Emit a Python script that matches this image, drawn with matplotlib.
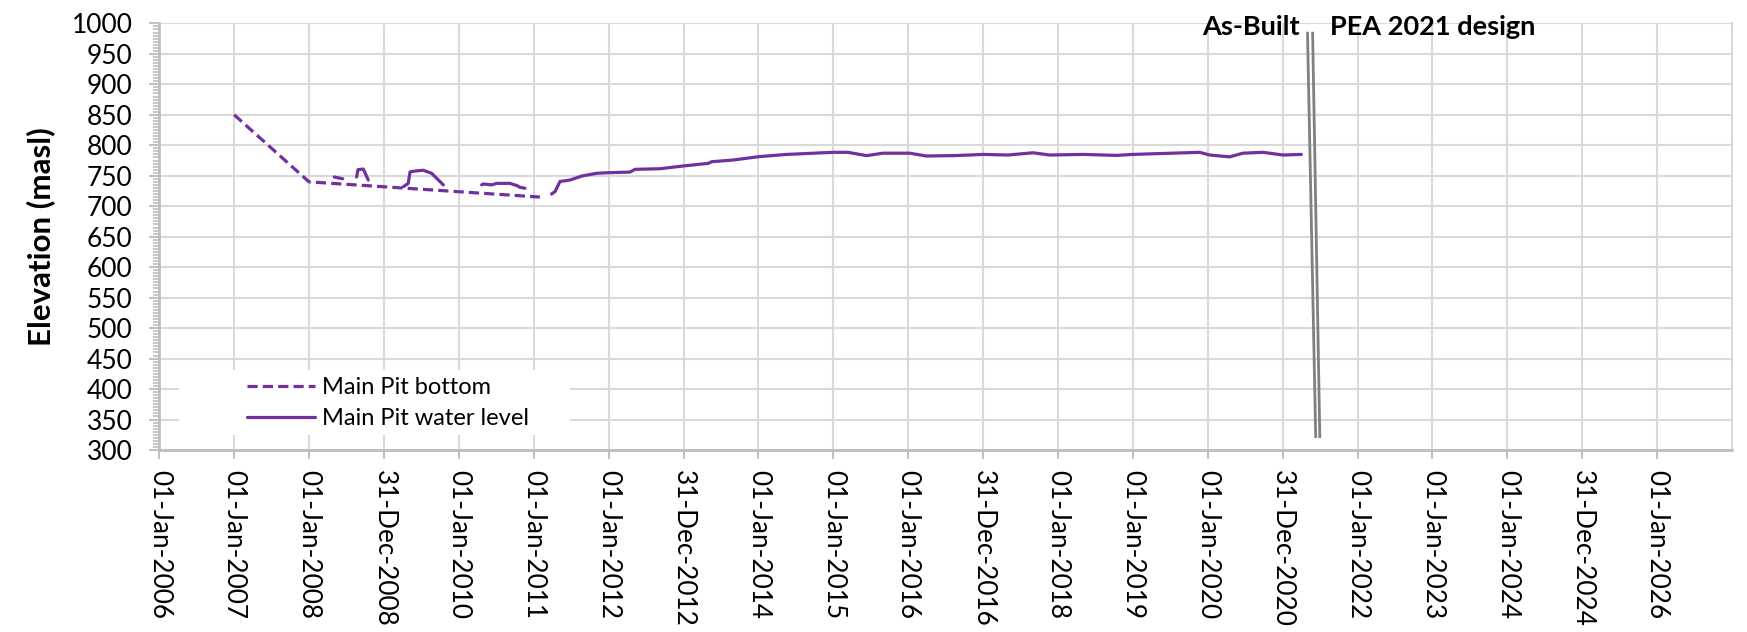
import matplotlib
matplotlib.use("Agg")
import matplotlib.pyplot as plt
import matplotlib.dates as mdates
import pandas as pd
import numpy as np
from matplotlib.patches import Rectangle

plt.rcParams['font.family'] = ['Lato', 'DejaVu Sans']

# ---- data ----
bottom_dates = ["2007-01-01", "2008-01-01", "2011-01-31"]
bottom_vals = [850, 740, 715]

water_segments = [
    (["2008-05-03", "2008-06-13"], [748, 745]),
    (["2008-08-20", "2008-08-27", "2008-09-22", "2008-10-16"], [748, 760, 761, 743]),
    (["2009-04-05", "2009-04-29", "2009-05-08", "2009-06-09", "2009-07-11",
      "2009-08-21", "2009-09-23", "2009-10-17"],
     [732, 737.5, 756.5, 758, 759, 754, 743, 735]),
    (["2010-04-22", "2010-04-30", "2010-06-10", "2010-07-04", "2010-09-07",
      "2010-10-10", "2010-10-26", "2010-11-19"],
     [735, 736.5, 735, 737.5, 737.5, 734, 731, 729.5]),
    (["2011-03-29", "2011-04-15", "2011-05-09", "2011-06-27", "2011-08-23",
      "2011-11-04", "2011-12-30", "2012-04-14", "2012-05-09", "2012-09-08",
      "2012-12-30", "2013-05-01", "2013-05-18", "2013-08-31", "2013-12-31",
      "2014-05-19", "2014-12-31", "2015-03-14", "2015-06-12", "2015-09-01",
      "2016-01-09", "2016-03-30", "2016-08-07", "2016-10-27", "2016-12-31",
      "2017-05-02", "2017-09-01", "2017-11-21", "2018-05-03", "2018-10-13",
      "2019-01-02", "2019-11-23", "2020-01-11", "2020-04-17", "2020-06-21",
      "2020-09-27", "2021-01-02", "2021-04-02"],
     [720, 724, 740.5, 743, 749.5, 754, 755, 756, 760.5, 761.5,
      766, 770.3, 773, 775.8, 781.2, 785, 788.4, 788.4, 783, 787,
      787, 782.4, 783, 784, 785, 784, 787.7, 784, 785, 783.4,
      785, 788.4, 784, 781, 787, 788.4, 784, 785]),
]

divider1_dates = ["2021-05-02", "2021-06-11"]
divider2_dates = ["2021-05-27", "2021-07-01"]
divider_vals = [984, 322]

tick_labels = ["01-Jan-2006", "01-Jan-2007", "01-Jan-2008", "31-Dec-2008",
               "01-Jan-2010", "01-Jan-2011", "01-Jan-2012", "31-Dec-2012",
               "01-Jan-2014", "01-Jan-2015", "01-Jan-2016", "31-Dec-2016",
               "01-Jan-2018", "01-Jan-2019", "01-Jan-2020", "31-Dec-2020",
               "01-Jan-2022", "01-Jan-2023", "01-Jan-2024", "31-Dec-2024",
               "01-Jan-2026"]

PURPLE = "#7030A0"
GRID = "#D9D9D9"
AXC = "#BFBFBF"

fig = plt.figure(figsize=(17.47, 6.32), dpi=100)
ax = fig.add_axes([0.0912, 0.288, 0.9002, 0.675])

d2n = lambda s: mdates.date2num(pd.to_datetime(s))
x0 = d2n("2006-01-01")

ax.plot(d2n(bottom_dates), bottom_vals, color=PURPLE, lw=2.3,
        dashes=(3.2, 1.6), label="Main Pit bottom", zorder=4)
for i, (ds, vs) in enumerate(water_segments):
    ax.plot(d2n(ds), vs, color=PURPLE, lw=2.3, solid_capstyle='round',
            label="Main Pit water level" if i == 0 else None, zorder=4)

ax.plot(d2n(divider1_dates), divider_vals, color="#808080", lw=2.0, zorder=4)
ax.plot(d2n(divider2_dates), divider_vals, color="#808080", lw=2.0, zorder=4)

ax.set_xlim(x0, x0 + 21 * 365.25)
ax.set_ylim(300, 1000)

xt = [x0 + k * 365.25 for k in range(len(tick_labels))]
ax.set_xticks(xt)
ax.set_xticklabels(tick_labels, rotation=-90, fontsize=18.8, va='top', ha='center')
ax.set_yticks(np.arange(300, 1001, 50))
ax.set_yticks(np.arange(300, 1001, 5), minor=True)
ax.tick_params(axis='y', labelsize=19, length=7.2, width=1.4, color=AXC, pad=12)
ax.tick_params(axis='y', which='minor', length=4.5, width=1.2, color=AXC)
ax.tick_params(axis='x', length=6.5, width=1.4, color=AXC, pad=8)

ax.grid(True, which='major', color=GRID, lw=1.5, zorder=0)
ax.set_axisbelow(True)
ax.spines['top'].set_visible(False)
ax.spines['right'].set_color(GRID)
ax.spines['right'].set_linewidth(1.5)
for s in ['left', 'bottom']:
    ax.spines[s].set_color(AXC)
    ax.spines[s].set_linewidth(2.0)

ax.set_ylabel("Elevation (masl)", fontsize=22.5, fontweight='bold', labelpad=12)

# legend background
ax.add_patch(Rectangle((0.0125, 0.035), 0.2485, 0.1525, transform=ax.transAxes,
                       facecolor='white', edgecolor='none', zorder=2))
leg = ax.legend(loc='center left', bbox_to_anchor=(0.048, 0.11), frameon=False,
                fontsize=17, handlelength=2.9, handletextpad=0.3,
                labelspacing=0.42, borderpad=0)
leg.set_zorder(5)

fig.text(1202 / 1747, 1 - 35 / 632, "As-Built", fontsize=19.5, fontweight='bold',
         ha='left', va='baseline')
fig.text(1330 / 1747, 1 - 35 / 632, "PEA 2021 design", fontsize=19.5,
         fontweight='bold', ha='left', va='baseline')

fig.savefig("out.png", dpi=100)
